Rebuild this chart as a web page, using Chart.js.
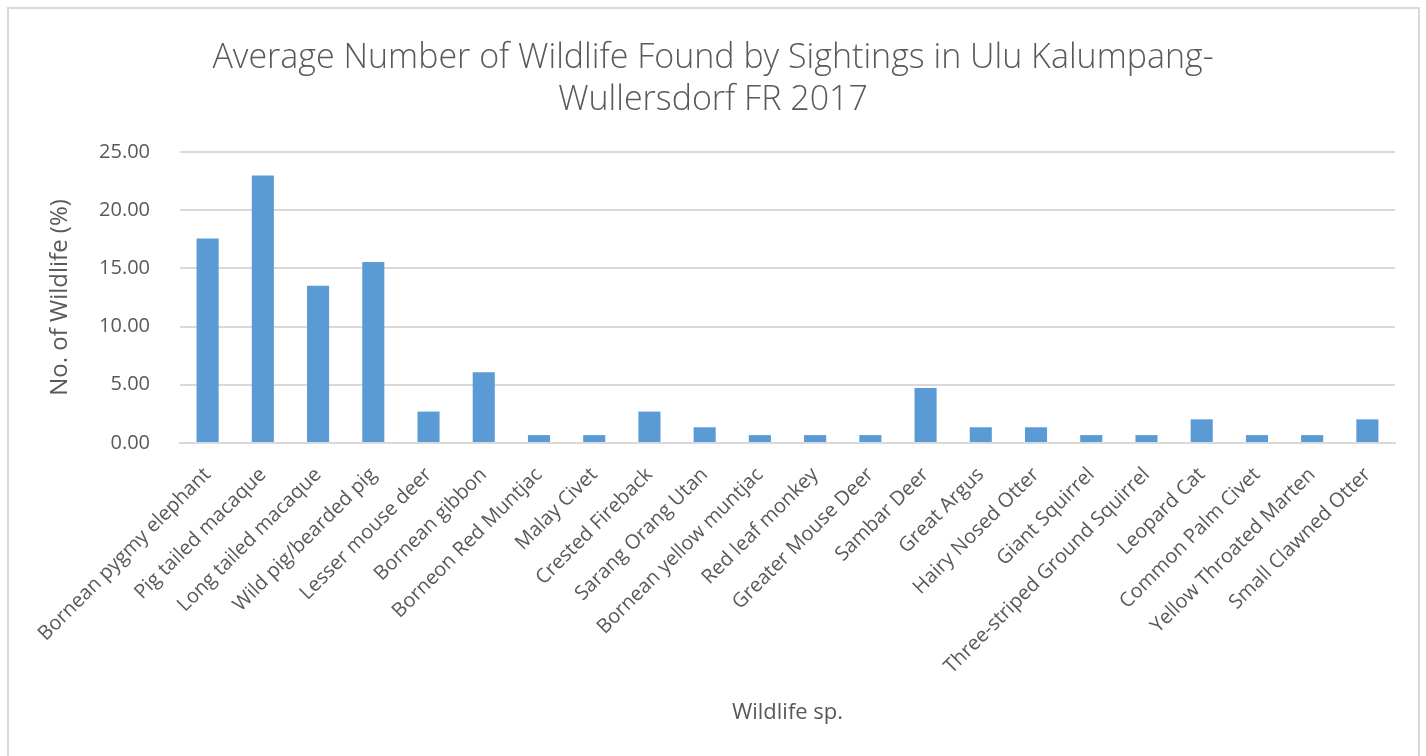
<!DOCTYPE html>
<html>
<head>
<meta charset="utf-8">
<script src="https://cdn.jsdelivr.net/npm/chart.js@4.4.1/dist/chart.umd.min.js"></script>
<style>
  html, body { margin: 0; padding: 0; background: #ffffff; }
  #wrap { width: 1426px; height: 756px; position: relative; }
</style>
</head>
<body>
<div id="wrap"><canvas id="wildlifeChart" width="1426" height="756"></canvas></div>
<script>
// Chart data
const species = [
    'Bornean pygmy elephant', 'Pig tailed macaque', 'Long tailed macaque', 'Wild pig/bearded pig',
    'Lesser mouse deer', 'Bornean gibbon', 'Borneon Red Muntjac', 'Malay Civet', 'Crested Fireback',
    'Sarang Orang Utan', 'Bornean yellow muntjac', 'Red leaf monkey', 'Greater Mouse Deer',
    'Sambar Deer', 'Great Argus', 'Hairy Nosed Otter', 'Giant Squirrel', 'Three-striped Ground Squirrel',
    'Leopard Cat', 'Common Palm Civet', 'Yellow Throated Marten', 'Small Clawned Otter'
];
const percentages = [
    17.57, 22.97, 13.51, 15.54, 2.70, 6.08, 0.68, 0.68, 2.70, 1.35, 0.68,
    0.68, 0.68, 4.73, 1.35, 1.35, 0.68, 0.68, 2.03, 0.68, 0.68, 2.03
];
const yTicks = [0, 5, 10, 15, 20, 25];
const chartTitle = ['Average Number of Wildlife Found by Sightings in Ulu Kalumpang-', 'Wullersdorf FR 2017'];

const textColor = '#595959';
const gridColor = '#d9d9d9';

// Outer chart border like the spreadsheet frame
const frameBorder = {
    id: 'frameBorder',
    beforeDraw(chart) {
        const ctx = chart.ctx;
        ctx.save();
        ctx.fillStyle = '#ffffff';
        ctx.fillRect(0, 0, chart.width, chart.height);
        ctx.strokeStyle = gridColor;
        ctx.lineWidth = 2;
        ctx.strokeRect(8, 8, chart.width - 15, chart.height + 20);
        ctx.restore();
    }
};

new Chart(document.getElementById('wildlifeChart'), {
    type: 'bar',
    data: {
        labels: species,
        datasets: [{
            label: 'Wildlife (%)',
            data: percentages,
            backgroundColor: '#5b9bd5',
            borderWidth: 0,
            barPercentage: 0.4,
            categoryPercentage: 1.0
        }]
    },
    options: {
        responsive: false,
        animation: false,
        // symmetric padding keeps the title centred on the canvas
        layout: { padding: { left: 23, right: 23, top: 0, bottom: 0 } },
        plugins: {
            legend: { display: false },
            tooltip: { enabled: false },
            title: {
                display: true,
                text: chartTitle,
                color: textColor,
                font: { family: 'Open Sans', size: 34, weight: '300', lineHeight: 1.235 },
                padding: { top: 37, bottom: 31 }
            }
        },
        scales: {
            x: {
                grid: { display: false },
                border: { display: true, color: gridColor, width: 2 },
                ticks: {
                    color: textColor,
                    autoSkip: false,
                    maxRotation: 45,
                    minRotation: 45,
                    padding: 12,
                    font: { family: 'Open Sans', size: 20 }
                },
                title: {
                    display: true,
                    text: 'Wildlife sp.',
                    color: textColor,
                    font: { family: 'Open Sans', size: 22, lineHeight: 1.2 },
                    padding: { top: 0, bottom: 30 }
                },
                afterFit(scale) { scale.height = 313; }
            },
            y: {
                min: 0,
                max: 25,
                afterBuildTicks(scale) {
                    scale.ticks = yTicks.map(v => ({ value: v }));
                },
                grid: { color: gridColor, lineWidth: 2, drawTicks: false },
                border: { display: false },
                ticks: {
                    color: textColor,
                    padding: 30,
                    font: { family: 'Open Sans', size: 20 },
                    callback: value => Number(value).toFixed(2)
                },
                title: {
                    display: true,
                    text: 'No. of Wildlife (%)',
                    color: textColor,
                    font: { family: 'Open Sans', size: 24, lineHeight: 1.2 },
                    padding: { top: 23, bottom: 0 }
                },
                afterFit(scale) { scale.width = 157; }
            },
            // empty spacer on the right so the plot ends where the reference does
            spacer: {
                type: 'linear',
                position: 'right',
                grid: { display: false, drawOnChartArea: false },
                border: { display: false },
                ticks: { display: false },
                afterFit(scale) { scale.width = 8; }
            }
        }
    },
    plugins: [frameBorder]
});
</script>
</body>
</html>
